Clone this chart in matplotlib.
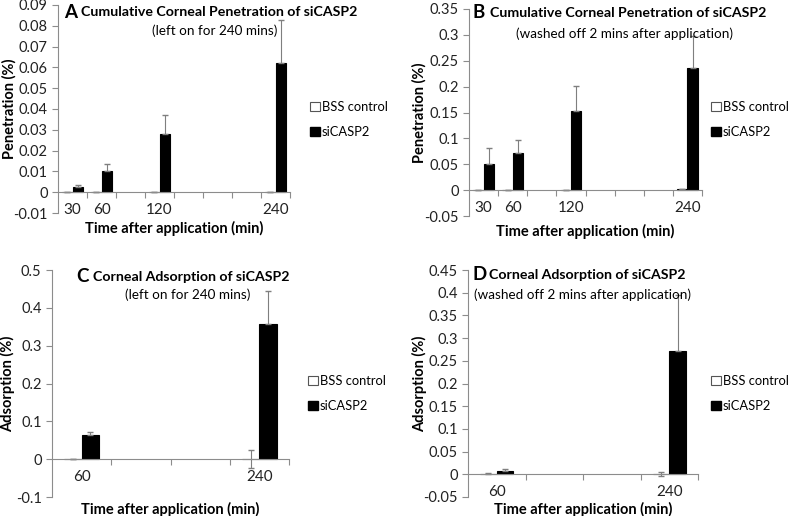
import numpy as np
import matplotlib
matplotlib.use("Agg")
import matplotlib.pyplot as plt
from matplotlib.patches import Patch
from matplotlib.ticker import FuncFormatter

plt.rcParams.update({
    "font.family": ["Lato", "DejaVu Sans"],
    "font.size": 10,
    "axes.unicode_minus": False,
})

# Data
times_pen = [30, 60, 120, 240]          # penetration panels, 30-min category axis
times_ads = [60, 240]                   # adsorption panels, 60-min category axis

A_bss = [0.0001, 0.0001, 0.0001, 0.0002]
A_bss_err = [0.0, 0.0, 0.0, 0.0]
A_si = [0.0023, 0.0103, 0.0278, 0.0622]
A_si_err = [0.0014, 0.0034, 0.0094, 0.0208]

B_bss = [0.001, 0.001, 0.001, 0.002]
B_bss_err = [0.0, 0.0, 0.0, 0.0]
B_si = [0.050, 0.071, 0.153, 0.236]
B_si_err = [0.032, 0.025, 0.048, 0.061]

C_bss = [0.001, 0.001]
C_bss_err = [0.0, 0.024]
C_si = [0.063, 0.356]
C_si_err = [0.009, 0.088]

D_bss = [0.001, 0.001]
D_bss_err = [0.001, 0.004]
D_si = [0.0075, 0.271]
D_si_err = [0.004, 0.125]

W, H = 793, 516
fig = plt.figure(figsize=(W / 100, H / 100), dpi=100)


def px(x0, y0, x1, y1):
    # pixel box -> figure fraction rect
    return [x0 / W, 1 - y1 / H, (x1 - x0) / W, (y1 - y0) / H]


AX_COL = "#8c8c8c"
ERR_COL = "#7f7f7f"


def panel(rect, times, t0, step, ncat, bss, bss_err, si, si_err, ylim, ystep,
          bw, ylabel, letter, title, sub, title_xy, sub_xy, leg_xy, ylab_x):
    ax = fig.add_axes(px(*rect))
    pos = (np.array(times) - t0) / step
    ax.bar(pos - bw / 2, bss, bw, color="white", edgecolor="black", linewidth=0.8,
           yerr=bss_err, error_kw=dict(ecolor=ERR_COL, elinewidth=0.8, capsize=2.5))
    ax.bar(pos + bw / 2, si, bw, color="black", edgecolor="black", linewidth=0.8,
           yerr=[np.zeros(len(si)), si_err],
           error_kw=dict(ecolor=ERR_COL, elinewidth=0.8, capsize=2.5))

    ax.set_xlim(-0.5, ncat - 0.5)
    ax.set_ylim(*ylim)
    ax.set_yticks(np.arange(ylim[0], ylim[1] + ystep / 2, ystep))
    ax.yaxis.set_major_formatter(FuncFormatter(lambda v, p: "%g" % round(v, 4)))

    for s in ["top", "right"]:
        ax.spines[s].set_visible(False)
    ax.spines["left"].set_color(AX_COL)
    ax.spines["bottom"].set_position(("data", 0))
    ax.spines["bottom"].set_color(AX_COL)

    ax.set_xticks(np.arange(0.5, ncat, 1.0))
    ax.set_xticklabels([])
    ax.set_xticks(pos, minor=True)
    ax.set_xticklabels([str(t) for t in times], minor=True)
    ax.tick_params(axis="x", which="major", length=4, color=AX_COL)
    ax.tick_params(axis="x", which="minor", length=0, pad=8, labelsize=11, labelcolor="#222222")
    ax.tick_params(axis="y", length=4, color=AX_COL, labelsize=10.5, labelcolor="#222222")

    ax.set_ylabel(ylabel, fontweight="bold", fontsize=10.5)
    ax.yaxis.set_label_coords(ylab_x, 0.5)
    ax.set_xlabel("Time after application (min)", fontweight="bold", fontsize=10.5)

    fig.text(title_xy[0] / W, 1 - title_xy[1] / H, letter, fontsize=13.5, fontweight="bold",
             ha="left", va="center")
    fig.text((title_xy[0] + 17) / W, 1 - title_xy[1] / H, title, fontsize=10.2,
             fontweight="bold", ha="left", va="center")
    fig.text(sub_xy[0] / W, 1 - sub_xy[1] / H, sub, fontsize=9.7, ha="center", va="center")

    handles = [Patch(facecolor="white", edgecolor="#555555", linewidth=0.8),
               Patch(facecolor="black", edgecolor="black")]
    ax.legend(handles, ["BSS control", "siCASP2"], loc="upper left",
              bbox_to_anchor=(leg_xy[0] / W, 1 - leg_xy[1] / H),
              bbox_transform=fig.transFigure, frameon=False, borderpad=0,
              handlelength=0.75, handleheight=0.75, handletextpad=0.15,
              labelspacing=1.0, fontsize=9.3, borderaxespad=0)
    return ax


axA = panel((58, 5, 290, 213), times_pen, 30, 30, 8, A_bss, A_bss_err, A_si, A_si_err,
            (-0.01, 0.09), 0.01, 0.35, "Penetration (%)", "A",
            "Cumulative Corneal Penetration of siCASP2", "(left on for 240 mins)",
            (64, 12), (215, 31), (310, 101), -0.18)
axA.xaxis.set_label_coords(0.5, -0.04)

axB = panel((469, 9, 702, 216), times_pen, 30, 30, 8, B_bss, B_bss_err, B_si, B_si_err,
            (-0.05, 0.35), 0.05, 0.35, "Penetration (%)", "B",
            "Cumulative Corneal Penetration of siCASP2", "(washed off 2 mins after application)",
            (473, 13), (624, 34), (711, 101), -0.18)
axB.xaxis.set_label_coords(0.5, -0.04)

axC = panel((52, 270, 289, 497), times_ads, 60, 60, 4, C_bss, C_bss_err, C_si, C_si_err,
            (-0.1, 0.5), 0.1, 0.29, "Adsorption (%)", "C",
            "Corneal Adsorption of siCASP2", "(left on for 240 mins)",
            (76, 277), (188, 295), (308, 375), -0.155)
axC.xaxis.set_label_coords(0.5, -0.02)

axD = panel((468, 270, 698, 497), times_ads, 60, 60, 4, D_bss, D_bss_err, D_si, D_si_err,
            (-0.05, 0.45), 0.05, 0.29, "Adsorption (%)", "D",
            "Corneal Adsorption of siCASP2", "(washed off 2 mins after application)",
            (472, 275), (583, 295), (711, 375), -0.18)
axD.xaxis.set_label_coords(0.5, -0.02)

fig.savefig("out.png", dpi=100)
